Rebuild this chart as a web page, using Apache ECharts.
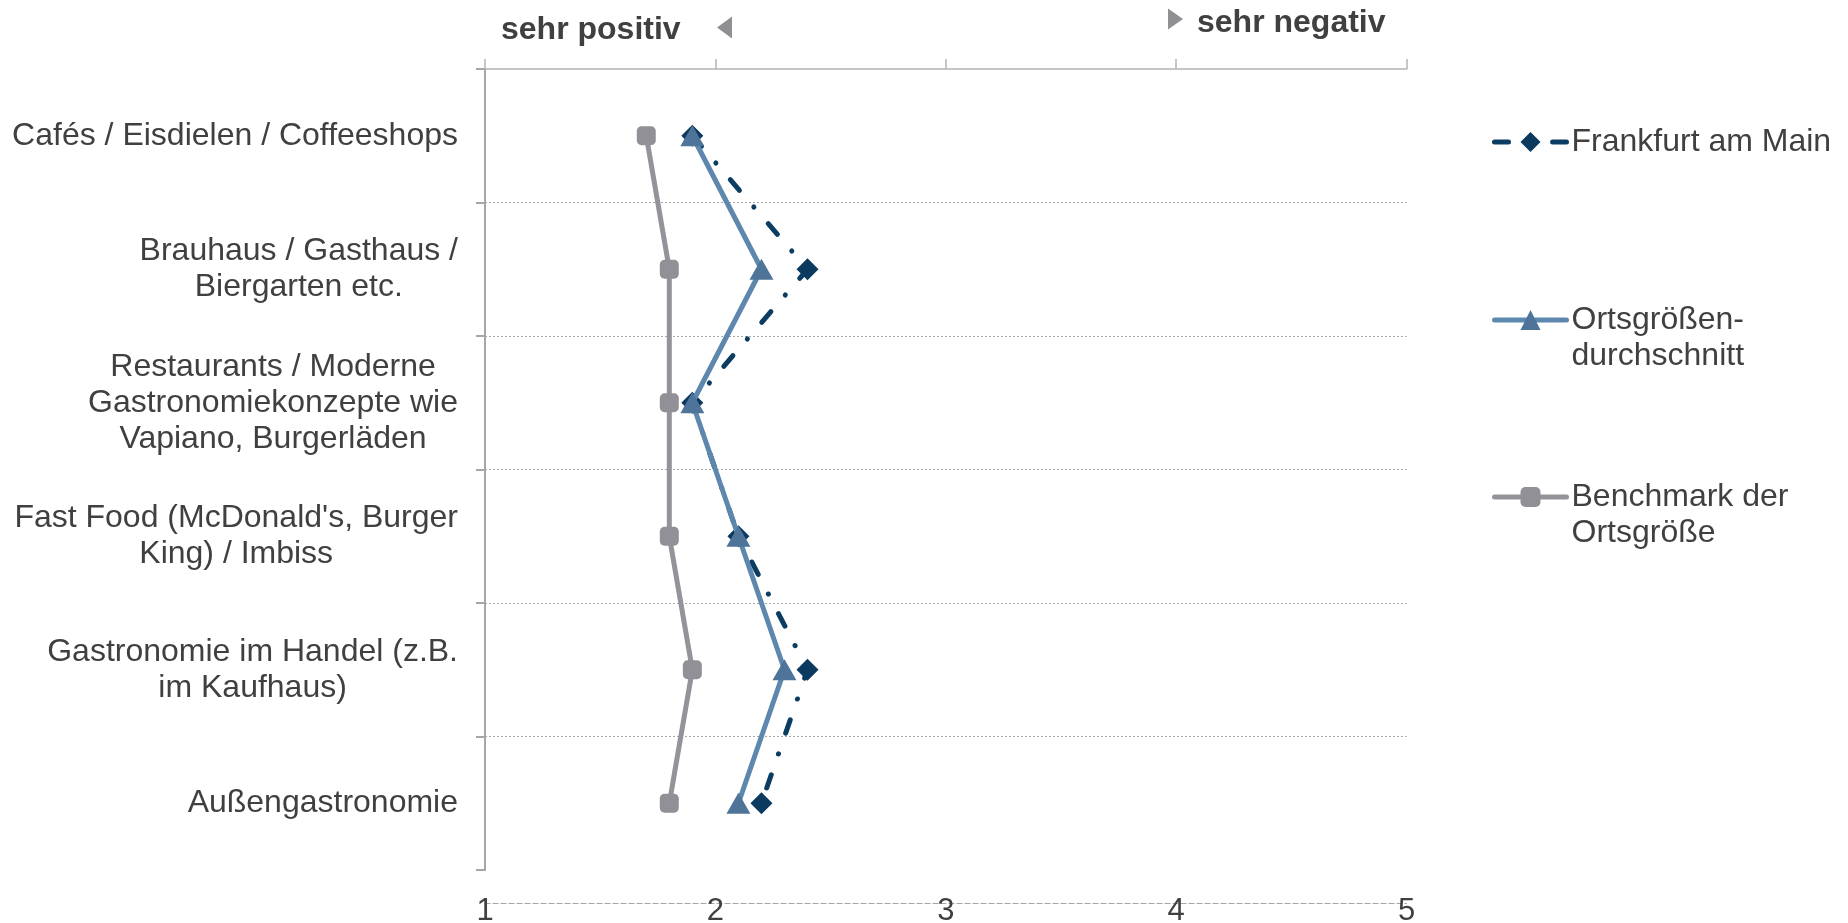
<!DOCTYPE html>
<html>
<head>
<meta charset="utf-8">
<script src="https://cdn.jsdelivr.net/npm/echarts@6/dist/echarts.min.js"></script>
<style>
html,body{margin:0;padding:0;background:#fff;}
#chart{width:1848px;height:923px;}
</style>
</head>
<body>
<div id="chart"></div>
<script>
const categories = [
  'Cafés / Eisdielen / Coffeeshops',
  'Brauhaus / Gasthaus /\nBiergarten etc.',
  'Restaurants / Moderne\nGastronomiekonzepte wie\nVapiano, Burgerläden',
  "Fast Food (McDonald's, Burger\nKing) / Imbiss",
  'Gastronomie im Handel (z.B.\nim Kaufhaus)',
  'Außengastronomie'
];
const seriesNames = ['Frankfurt am Main', 'Ortsgrößen-\ndurchschnitt', 'Benchmark der\nOrtsgröße'];
const frankfurt = [1.9, 2.4, 1.9, 2.1, 2.4, 2.2];
const ortsgroessen = [1.9, 2.2, 1.9, 2.1, 2.3, 2.1];
const benchmark = [1.7, 1.8, 1.8, 1.8, 1.9, 1.8];
const xTicks = [1, 2, 3, 4, 5];
const scaleLabels = ['sehr positiv', 'sehr negativ'];

const FONT = '"Liberation Sans", Arial, sans-serif';
const TXT = '#404040';

const chart = echarts.init(document.getElementById('chart'), null, {renderer: 'canvas'});

const legendBase = {
  orient: 'vertical',
  left: 1492,
  padding: 0,
  itemWidth: 72,
  itemHeight: 25,
  itemGap: 0,
  textStyle: {fontFamily: FONT, fontSize: 32, lineHeight: 36, color: TXT}
};
// multi-line names: add an empty first line so that the icon sits on the first text line
const firstLineOnIcon = name => '\n' + name;

const option = {
  backgroundColor: '#ffffff',
  animation: false,
  grid: {left: 485, right: 441.5, top: 69, bottom: 53, containLabel: false, outerBoundsMode: 'none'},
  xAxis: [
    {
      type: 'value', position: 'top', min: xTicks[0], max: xTicks[xTicks.length - 1], interval: 1,
      axisLine: {show: true, lineStyle: {color: '#b4b4b4', width: 1.5}},
      axisTick: {show: true, inside: false, length: 10, lineStyle: {color: '#b4b4b4', width: 1.5}},
      axisLabel: {show: false},
      splitLine: {show: false}
    },
    {
      type: 'value', position: 'bottom', offset: 33, min: xTicks[0], max: xTicks[xTicks.length - 1], interval: 1,
      axisLine: {show: true, lineStyle: {color: '#a6a6a6', width: 1.2, type: [5, 3]}},
      axisTick: {show: false},
      axisLabel: {show: true, margin: 8, verticalAlign: 'middle', fontFamily: FONT, fontSize: 31, color: TXT,
        showMinLabel: true, showMaxLabel: true,
        formatter: v => xTicks.includes(v) ? String(v) : ''},
      splitLine: {show: false}
    }
  ],
  yAxis: {
    type: 'category', data: categories, inverse: true, boundaryGap: true,
    axisLine: {show: true, lineStyle: {color: '#a6a6a6', width: 2}},
    axisTick: {show: true, length: 9, alignWithLabel: false, lineStyle: {color: '#a6a6a6', width: 2}},
    axisLabel: {
      margin: 27, align: 'right', fontFamily: FONT, fontSize: 32, color: TXT,
      formatter: v => v.split('\n').map(s => '{c|' + s + '}').join('\n'),
      rich: {c: {align: 'center', fontFamily: FONT, fontSize: 32, lineHeight: 36, color: TXT}}
    },
    splitLine: {show: true, showMinLine: false, showMaxLine: false, lineStyle: {color: '#a6a6a6', width: 1, type: [2, 2]}}
  },
  legend: [
    Object.assign({}, legendBase, {top: 124, data: [seriesNames[0]],
      lineStyle: {width: 5, cap: 'round', type: 'inherit'}}),
    Object.assign({}, legendBase, {top: 266, data: [seriesNames[1]],
      lineStyle: {width: 5, cap: 'round'}, formatter: firstLineOnIcon}),
    Object.assign({}, legendBase, {top: 443, data: [seriesNames[2]],
      lineStyle: {width: 5, cap: 'round'}, formatter: firstLineOnIcon})
  ],
  graphic: [
    {type: 'text', left: 501, top: 14.5, style: {text: scaleLabels[0], font: 'bold 32px ' + FONT, fill: TXT}, z: 10},
    {type: 'text', left: 1197, top: 7.5, style: {text: scaleLabels[1], font: 'bold 32px ' + FONT, fill: TXT}, z: 10},
    {type: 'polygon', shape: {points: [[717, 27.5], [732, 16.5], [732, 38.5]]}, style: {fill: '#8f8f94'}, z: 10},
    {type: 'polygon', shape: {points: [[1168, 8.5], [1168, 29.5], [1183, 19]]}, style: {fill: '#8f8f94'}, z: 10}
  ],
  series: [
    {
      name: seriesNames[0], type: 'line', xAxisIndex: 0, data: frankfurt, z: 3,
      symbol: 'diamond', symbolSize: 22, showSymbol: true,
      lineStyle: {color: '#0b3d63', width: 5, type: [14, 22, 0.1, 22], cap: 'round'},
      itemStyle: {color: '#0b3a5e'}
    },
    {
      name: seriesNames[1], type: 'line', xAxisIndex: 0, data: ortsgroessen, z: 4,
      symbol: 'triangle', symbolSize: [24, 21],
      lineStyle: {color: '#5d87ad', width: 5},
      itemStyle: {color: '#4e7499'}
    },
    {
      name: seriesNames[2], type: 'line', xAxisIndex: 0, data: benchmark, z: 5,
      symbol: 'roundRect', symbolSize: 19,
      lineStyle: {color: '#939399', width: 5},
      itemStyle: {color: '#909096'}
    }
  ]
};
chart.setOption(option);
</script>
</body>
</html>
